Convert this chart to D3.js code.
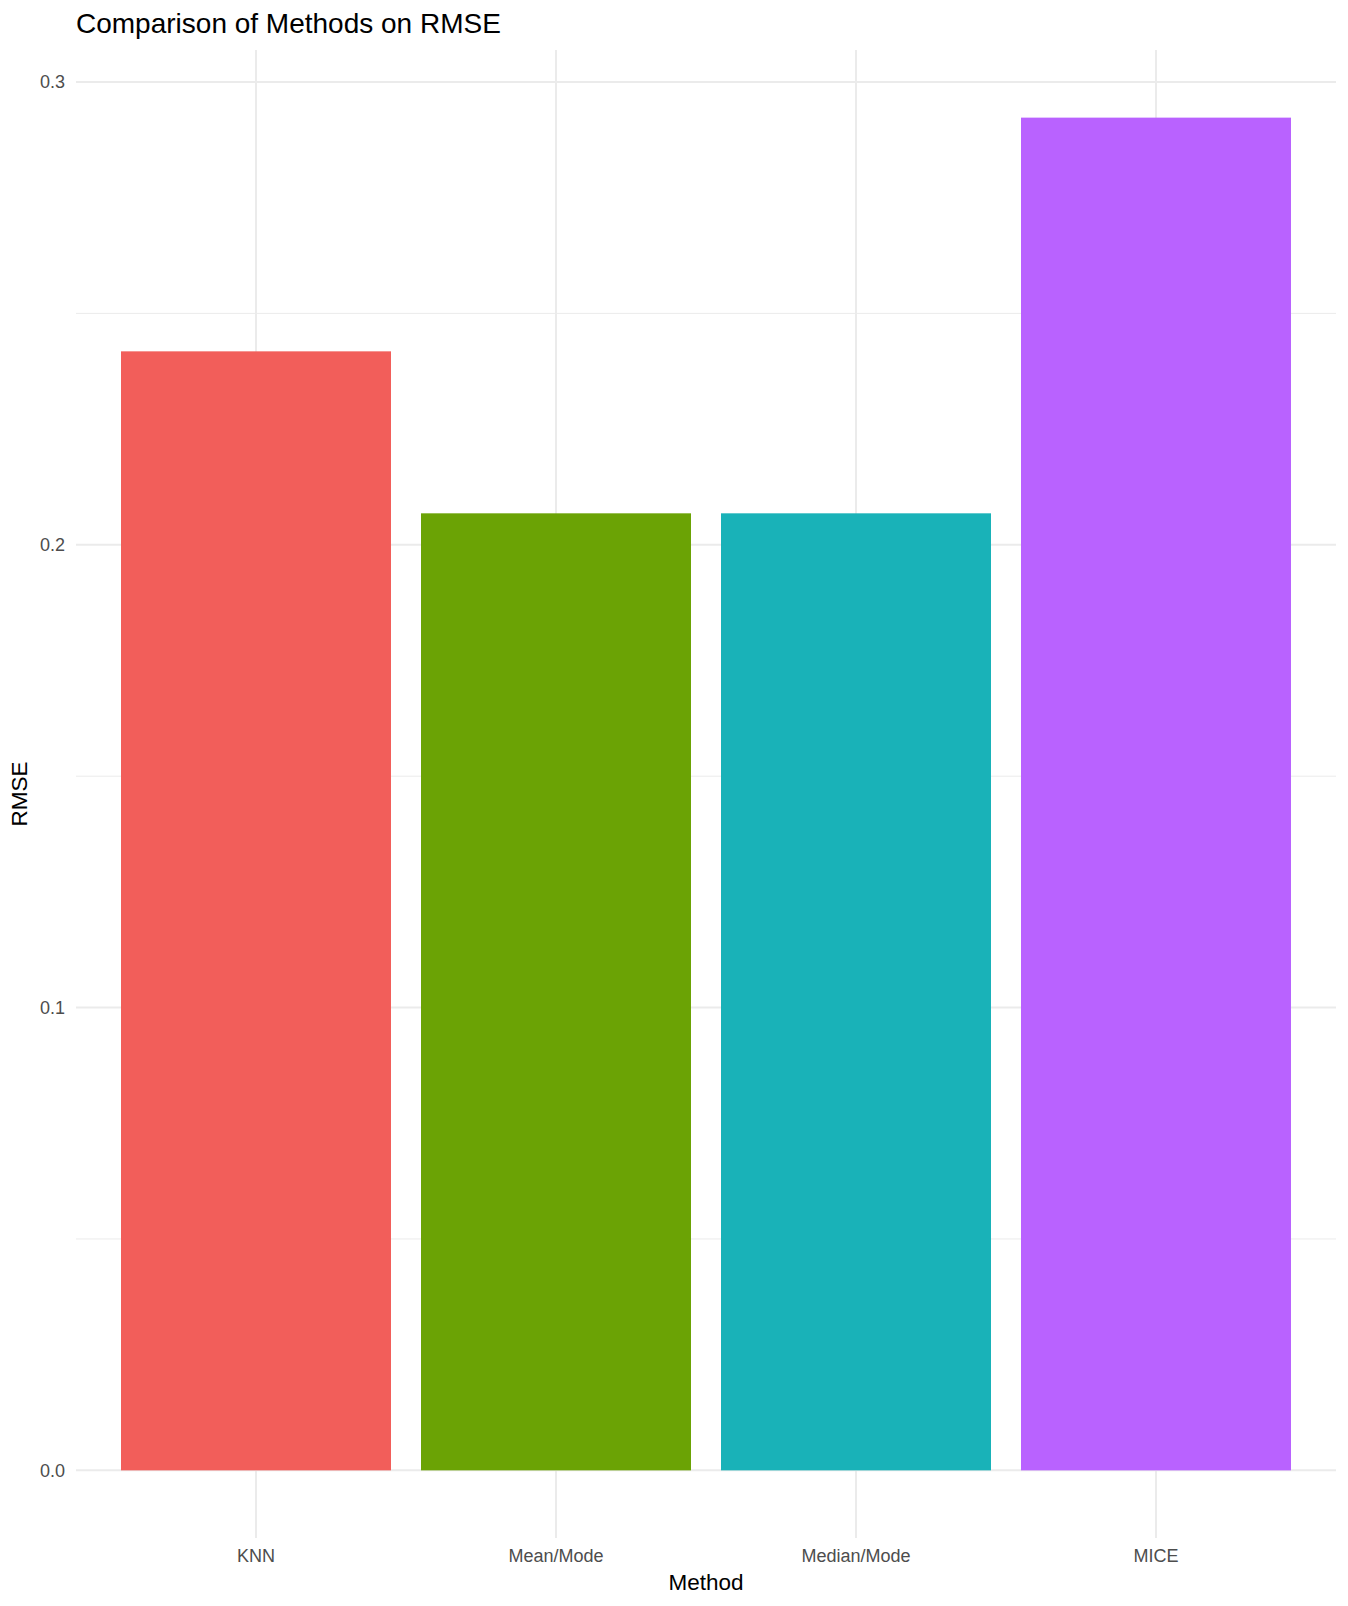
<!DOCTYPE html>
<html>
<head>
<meta charset="utf-8">
<script src="https://cdn.jsdelivr.net/npm/d3@7"></script>
<style>
  body { margin: 0; background: #fff; }
  text { font-family: "Liberation Sans", Arial, sans-serif; }
</style>
</head>
<body>
<svg id="chart" width="1348" height="1606"></svg>
<script>
// data
var methods = ['KNN', 'Mean/Mode', 'Median/Mode', 'MICE'];
var rmse = [0.2418, 0.2068, 0.2068, 0.2923];
var bar_colors = ['#F25E5A', '#6BA305', '#19B2B8', '#B962FF'];
var major_ticks = [0, 0.1, 0.2, 0.3];
var minor_ticks = [0.05, 0.15, 0.25];

var svg = d3.select('#chart');

var panel = {left: 76, right: 1336, top: 50, bottom: 1538};

var x_scale = d3.scaleBand()
  .domain(methods)
  .range([panel.left, panel.right])
  .paddingInner(0.1)
  .paddingOuter(0.15);

var y_max = d3.max(rmse);
var y_scale = d3.scaleLinear()
  .domain([-0.05 * y_max, 1.05 * y_max])
  .range([panel.bottom, panel.top]);

var data = methods.map(function(m, i) {
  return {method: m, value: rmse[i], color: bar_colors[i]};
});

// grid lines
var grid = svg.append('g').attr('class', 'grid');

grid.selectAll('.minor_lines')
  .data(minor_ticks)
  .enter()
  .append('line')
  .attr('class', 'minor_lines')
  .attr('x1', panel.left)
  .attr('x2', panel.right)
  .attr('y1', function(d) { return y_scale(d); })
  .attr('y2', function(d) { return y_scale(d); })
  .style('stroke', '#EBEBEB')
  .style('stroke-width', '1px');

grid.selectAll('.horz_lines')
  .data(major_ticks)
  .enter()
  .append('line')
  .attr('class', 'horz_lines')
  .attr('x1', panel.left)
  .attr('x2', panel.right)
  .attr('y1', function(d) { return y_scale(d); })
  .attr('y2', function(d) { return y_scale(d); })
  .style('stroke', '#EBEBEB')
  .style('stroke-width', '2px');

grid.selectAll('.vert_lines')
  .data(methods)
  .enter()
  .append('line')
  .attr('class', 'vert_lines')
  .attr('x1', function(d) { return x_scale(d) + x_scale.bandwidth() / 2; })
  .attr('x2', function(d) { return x_scale(d) + x_scale.bandwidth() / 2; })
  .attr('y1', panel.top)
  .attr('y2', panel.bottom)
  .style('stroke', '#EBEBEB')
  .style('stroke-width', '2px');

// bars
svg.append('g')
  .selectAll('rect')
  .data(data)
  .enter()
  .append('rect')
  .attr('x', function(d) { return x_scale(d.method); })
  .attr('width', x_scale.bandwidth())
  .attr('y', function(d) { return y_scale(d.value); })
  .attr('height', function(d) { return y_scale(0) - y_scale(d.value); })
  .style('fill', function(d) { return d.color; });

// y axis labels
var y_axis = d3.axisLeft(y_scale)
  .tickValues(major_ticks)
  .tickFormat(d3.format('.1f'))
  .tickSize(0)
  .tickPadding(11);

svg.append('g')
  .attr('transform', 'translate(' + panel.left + ',0)')
  .call(y_axis)
  .call(function(g) { g.select('.domain').remove(); })
  .selectAll('text')
  .style('font-size', '18px')
  .style('fill', '#4D4D4D')
  .style('font-family', '"Liberation Sans", Arial, sans-serif');

// x axis labels
var x_axis = d3.axisBottom(x_scale)
  .tickSize(0)
  .tickPadding(11);

svg.append('g')
  .attr('transform', 'translate(0,' + panel.bottom + ')')
  .call(x_axis)
  .call(function(g) { g.select('.domain').remove(); })
  .selectAll('text')
  .style('font-size', '18px')
  .style('fill', '#4D4D4D')
  .style('font-family', '"Liberation Sans", Arial, sans-serif');

// titles
svg.append('text')
  .attr('x', panel.left)
  .attr('y', 33)
  .style('font-size', '28px')
  .style('fill', '#000')
  .text('Comparison of Methods on RMSE');

svg.append('text')
  .attr('x', (panel.left + panel.right) / 2)
  .attr('y', 1590)
  .attr('text-anchor', 'middle')
  .style('font-size', '22.5px')
  .style('fill', '#000')
  .text('Method');

svg.append('text')
  .attr('transform', 'translate(27,' + (panel.top + panel.bottom) / 2 + ') rotate(-90)')
  .attr('text-anchor', 'middle')
  .style('font-size', '22.5px')
  .style('fill', '#000')
  .text('RMSE');
</script>
</body>
</html>
